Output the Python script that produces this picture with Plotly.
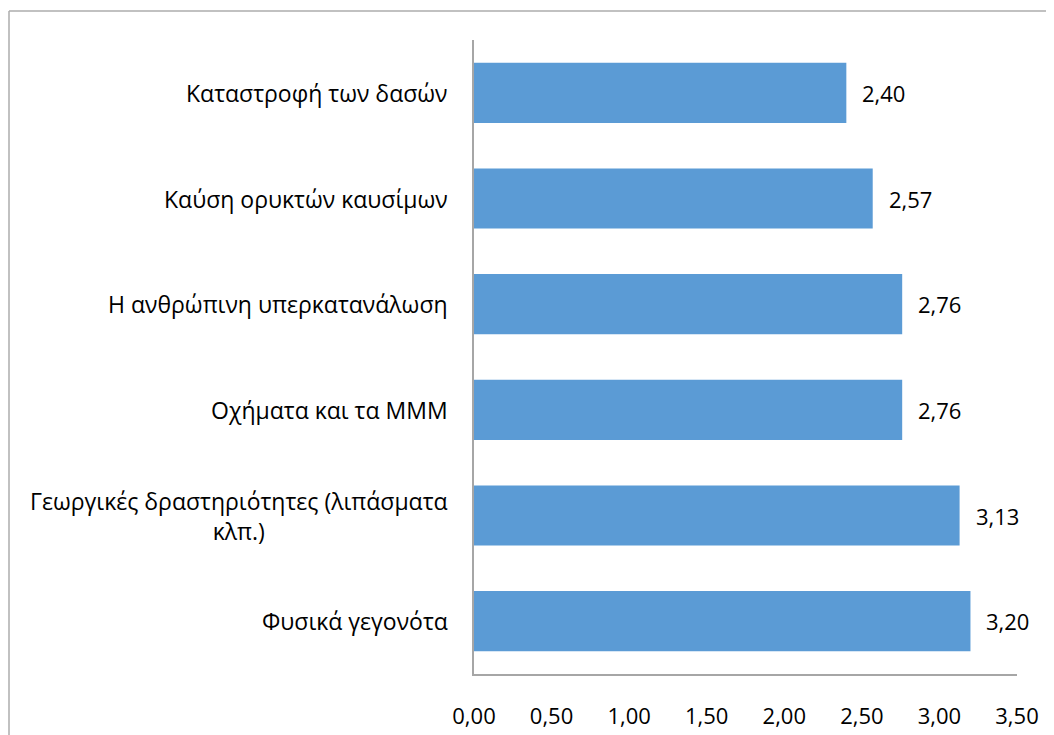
import plotly.graph_objects as go

categories = [
    "Καταστροφή των δασών",
    "Καύση ορυκτών καυσίμων",
    "Η ανθρώπινη υπερκατανάλωση",
    "Οχήματα και τα ΜΜΜ",
    "Γεωργικές δραστηριότητες (λιπάσματα<br>κλπ.)",
    "Φυσικά γεγονότα",
]
values = [2.40, 2.57, 2.76, 2.76, 3.13, 3.20]
x_ticks = [0, 0.5, 1.0, 1.5, 2.0, 2.5, 3.0, 3.5]

# page is offset by the default 8px body margin
OFF = 8
W, H = 1054 - OFF, 735 - OFF
ML, MR, MT, MB = 466, 37, 32, 61
PW = W - ML - MR
PH = H - MT - MB
FONT = "Open Sans, Noto Sans, DejaVu Sans, sans-serif"
FS_CAT = 23
FS_NUM = 22
BAR = "#5B9BD5"
AXIS = "#A6A6A6"


def px_x(p):
    return (p - OFF - ML) / PW


def px_y(p):
    return (H - MB - (p - OFF)) / PH


def fmt(v):
    return f"{v:.2f}".replace(".", ",")


fig = go.Figure(
    go.Bar(
        x=values,
        y=list(range(len(categories))),
        orientation="h",
        marker=dict(color=BAR, line=dict(width=0)),
        width=0.57,
        hoverinfo="skip",
    )
)

annotations = []
for i, (c, v) in enumerate(zip(categories, values)):
    annotations.append(dict(
        x=0, xref="paper", y=i, yref="y", text=c, showarrow=False,
        xanchor="right", yanchor="middle", align="center", xshift=-24,
        font=dict(family=FONT, size=FS_CAT, color="#000000"),
    ))
    annotations.append(dict(
        x=v, xref="x", y=i, yref="y", text=fmt(v), showarrow=False,
        xanchor="left", yanchor="middle", xshift=14,
        font=dict(family=FONT, size=FS_NUM, color="#000000"),
    ))

shapes = [
    dict(type="line", xref="paper", yref="paper",
         x0=px_x(9), x1=px_x(9), y0=px_y(11), y1=px_y(760),
         line=dict(color="#ADADAD", width=1.5)),
    dict(type="line", xref="paper", yref="paper",
         x0=px_x(9), x1=px_x(1080), y0=px_y(11), y1=px_y(11),
         line=dict(color="#ADADAD", width=1.5)),
]

fig.update_layout(
    width=W, height=H,
    margin=dict(l=ML, r=MR, t=MT, b=MB, pad=0),
    paper_bgcolor="white", plot_bgcolor="white",
    separators=",.",
    showlegend=False,
    font=dict(family=FONT, size=FS_NUM, color="#000000"),
    xaxis=dict(
        range=[0, 3.5], tickvals=x_ticks, tickformat=".2f",
        showgrid=False, zeroline=False, showline=True, linecolor=AXIS,
        linewidth=1.5, ticks="", ticklabelstandoff=22, automargin=False,
        tickfont=dict(family=FONT, size=FS_NUM, color="#000000"),
    ),
    yaxis=dict(
        range=[len(categories) - 0.5, -0.5], showticklabels=False,
        showgrid=False, zeroline=False, showline=True, linecolor=AXIS,
        linewidth=1.5, ticks="", automargin=False,
    ),
    annotations=annotations,
    shapes=shapes,
)

fig.write_html("out.html")
